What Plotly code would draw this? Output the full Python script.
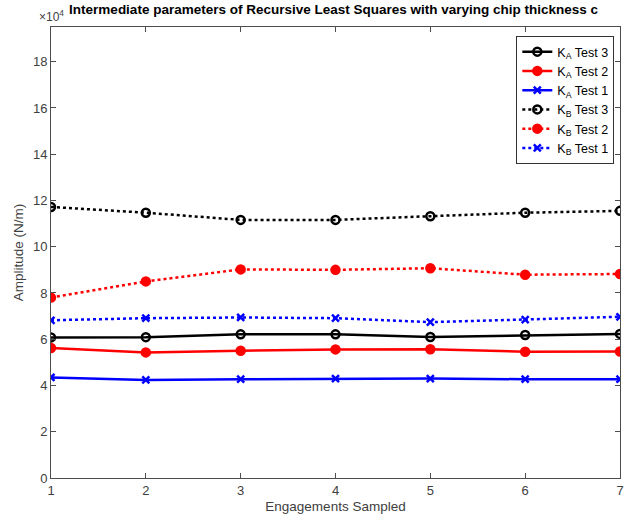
import plotly.graph_objects as go

engagements = [1, 2, 3, 4, 5, 6, 7]
ka_test3 = [60800, 60900, 62100, 62100, 61000, 61800, 62300]
ka_test2 = [56200, 54300, 55000, 55600, 55700, 54600, 54700]
ka_test1 = [43500, 42400, 42700, 43000, 43000, 42700, 42700]
kb_test3 = [117200, 114700, 111600, 111600, 113200, 114700, 115500]
kb_test2 = [78000, 85000, 90200, 90000, 90700, 87900, 88200]
kb_test1 = [68200, 69100, 69400, 69100, 67400, 68500, 69700]
y_ticks = [0, 2, 4, 6, 8, 10, 12, 14, 16, 18]
x_ticks = [1, 2, 3, 4, 5, 6, 7]

series = [
    ("K<sub>A</sub> Test 3", ka_test3, "black", "solid", "circle-open", 8),
    ("K<sub>A</sub> Test 2", ka_test2, "red", "solid", "circle", 8),
    ("K<sub>A</sub> Test 1", ka_test1, "blue", "solid", "x-thin-open", 7),
    ("K<sub>B</sub> Test 3", kb_test3, "black", "dot", "circle-open", 8),
    ("K<sub>B</sub> Test 2", kb_test2, "red", "dot", "circle", 8),
    ("K<sub>B</sub> Test 1", kb_test1, "blue", "dot", "x-thin-open", 7),
]

fig = go.Figure()
for name, vals, color, dash, sym, size in series:
    fig.add_trace(go.Scatter(
        x=engagements, y=vals, name=name, mode="lines+markers",
        line=dict(color=color, width=2.5, dash=dash),
        marker=dict(symbol=sym, size=size, color=color,
                    line=dict(color=color, width=2.5)),
    ))

axis_color = "#4d4d4d"
fig.update_layout(
    width=633, height=520,
    margin=dict(l=51, r=9, t=27, b=40),
    paper_bgcolor="white", plot_bgcolor="white",
    font=dict(family="Liberation Sans, Arial, sans-serif", size=13, color="#404040"),
    title=dict(text="<b>Intermediate parameters of Recursive Least Squares with varying chip thickness c</b>",
               x=0.527, xanchor="center", y=0.982, yanchor="middle",
               font=dict(size=13.5, color="black")),
    showlegend=True,
    legend=dict(x=0.99, y=0.98, xanchor="right", yanchor="top",
                bgcolor="white", bordercolor="#333", borderwidth=1,
                font=dict(size=12.5, color="black"), tracegroupgap=0,
                itemwidth=30),
    xaxis=dict(range=[1, 7], tickvals=x_ticks, ticks="inside", ticklen=5,
               showline=True, linecolor=axis_color, mirror="ticks", linewidth=1,
               tickcolor=axis_color, showgrid=False, zeroline=False,
               tickfont=dict(size=13),
               title=dict(text="Engagements Sampled", standoff=4,
                          font=dict(size=13.5, color="#404040"))),
    yaxis=dict(range=[0, 195000], tickvals=[v * 10000 for v in y_ticks],
               ticktext=[str(v) for v in y_ticks], ticks="inside", ticklen=5,
               showline=True, linecolor=axis_color, mirror="ticks", linewidth=1,
               tickcolor=axis_color, showgrid=False, zeroline=False,
               tickfont=dict(size=13),
               title=dict(text="Amplitude (N/m)", standoff=6,
                          font=dict(size=13.5, color="#404040"))),
)
fig.add_annotation(text="×10<sup>4</sup>", xref="paper", yref="paper",
                   x=0.0, y=1.0, xanchor="center", yanchor="bottom", yshift=1,
                   showarrow=False, font=dict(size=12, color="#404040"))
fig.write_html("out.html", config={"displayModeBar": False},
               post_script="document.body.style.margin='0';")
